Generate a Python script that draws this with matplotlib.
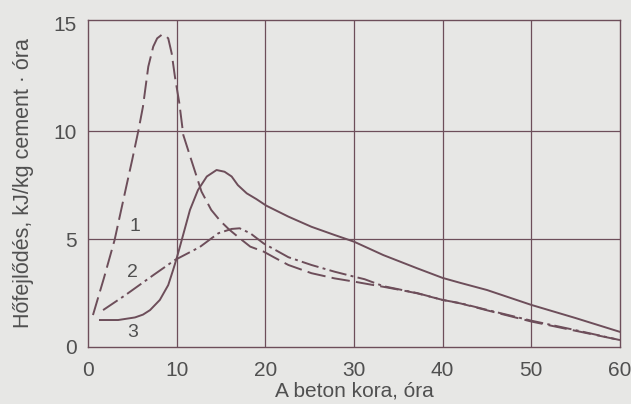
import matplotlib
matplotlib.use("Agg")
import matplotlib.pyplot as plt

# Heat of hydration rate curves for three cements
hours_1 = [0.56, 1.8, 3.0, 4.3, 5.0, 5.7, 6.2, 6.8, 7.36, 7.8, 8.3, 8.7, 9.05, 9.44,
           9.8, 10.3, 10.75, 11.7, 12.8, 13.9, 14.9, 15.9, 17.1, 18.3, 19.8, 21.0,
           22.6, 25.2, 27.8, 30, 31.5, 33.3, 35, 37.1, 40, 42, 45, 50, 55, 60]
heat_1 = [1.48, 3.2, 4.96, 7.4, 8.7, 10.06, 11.14, 12.99, 13.92, 14.3, 14.46, 14.43,
          14.3, 13.6, 12.53, 11.3, 9.82, 8.6, 7.2, 6.35, 5.85, 5.45, 5.04, 4.65, 4.42,
          4.15, 3.8, 3.42, 3.18, 3.03, 2.92, 2.79, 2.66, 2.49, 2.18, 2.02, 1.7, 1.18,
          0.75, 0.32]

hours_2 = [1.7, 4.2, 7.4, 9.8, 12.6, 14.7, 16.2, 17.1, 18.3, 19.8, 22.6, 25.2, 27.8,
           30, 31.2, 33.3, 37.1, 40, 42, 45, 50, 55, 60]
heat_2 = [1.71, 2.4, 3.34, 4.03, 4.63, 5.27, 5.47, 5.5, 5.27, 4.8, 4.16, 3.8, 3.49,
          3.26, 3.14, 2.82, 2.5, 2.18, 2.03, 1.72, 1.22, 0.78, 0.32]

hours_3 = [1.35, 3.4, 5.3, 6.2, 7.0, 8.1, 9.05, 9.6, 10.0, 10.4, 11.5, 12.4, 13.4, 14.5,
           15.4, 16.2, 16.9, 17.9, 19.0, 20.1, 22.6, 25.2, 27.8, 30, 33.3, 37.1, 40,
           42, 45, 50, 55, 60]
heat_3 = [1.25, 1.25, 1.37, 1.5, 1.71, 2.18, 2.87, 3.57, 4.11, 4.7, 6.35, 7.27, 7.9,
          8.2, 8.12, 7.9, 7.5, 7.12, 6.85, 6.55, 6.04, 5.57, 5.19, 4.88, 4.26, 3.65,
          3.2, 2.97, 2.64, 1.95, 1.34, 0.7]

curve_labels = ["1", "2", "3"]
label_x = [5.3, 5.0, 5.0]
label_y = [5.56, 3.43, 0.65]

x_ticks = [0, 10, 20, 30, 40, 50, 60]
y_ticks = [0, 5, 10, 15]

line_color = "#6d4e5a"
text_color = "#505050"
bg = "#e7e7e5"

plt.rcParams["font.family"] = ["Liberation Sans", "DejaVu Sans"]

fig = plt.figure(figsize=(6.31, 4.04), dpi=100, facecolor=bg)
ax = fig.add_axes([88 / 631, 1 - 347 / 404, 532 / 631, 327 / 404], facecolor=bg)

ax.set_xlim(0, 60)
ax.set_ylim(0, 15.15)

for xv in x_ticks[1:-1]:
    ax.axvline(xv, color=line_color, lw=0.9, zorder=1)
for yv in y_ticks[1:-1]:
    ax.axhline(yv, color=line_color, lw=0.9, zorder=1)

ax.plot(hours_1, heat_1, color=line_color, lw=1.4, dashes=(9.5, 3.2),
        solid_joinstyle="round", zorder=3)
ax.plot(hours_2, heat_2, color=line_color, lw=1.4, dashes=(9, 2.2, 1.5, 2.2),
        solid_joinstyle="round", zorder=3)
ax.plot(hours_3, heat_3, color=line_color, lw=1.4, solid_joinstyle="round",
        zorder=3)

for t, lx, ly in zip(curve_labels, label_x, label_y):
    ax.text(lx, ly, t, color=text_color, fontsize=14, ha="center", va="center")

for s in ax.spines.values():
    s.set_color(line_color)
    s.set_linewidth(1.0)

ax.set_xticks(x_ticks)
ax.set_yticks(y_ticks)
ax.tick_params(length=0, labelsize=15, labelcolor=text_color)
ax.tick_params(axis="x", pad=10)
ax.tick_params(axis="y", pad=8)

ax.set_xlabel("A beton kora, óra", fontsize=15, color=text_color, labelpad=1)
ax.set_ylabel("Hőfejlődés, kJ/kg cement · óra", fontsize=15.5, color=text_color,
              labelpad=14)

fig.savefig("out.png", dpi=100, facecolor=bg)
